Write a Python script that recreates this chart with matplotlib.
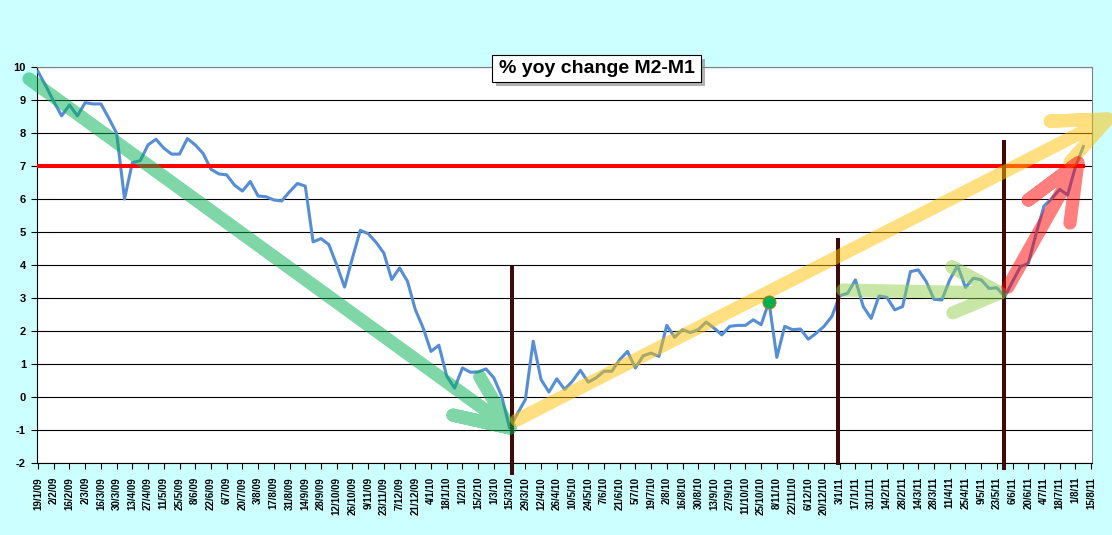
import pandas as pd
import matplotlib.pyplot as plt
from matplotlib.lines import Line2D

# =====================================
# DATA
# =====================================

# weekly % yoy change M2-M1, from 19/1/09
m2_m1 = [
    9.86, 9.42, 8.95, 8.52, 8.85, 8.52, 8.92, 8.88, 8.88, 8.45,
    7.99, 6.00, 7.10, 7.16, 7.64, 7.81, 7.54, 7.36, 7.36, 7.83,
    7.64, 7.38, 6.90, 6.76, 6.73, 6.42, 6.24, 6.53, 6.09, 6.07,
    5.97, 5.94, 6.22, 6.47, 6.39, 4.70, 4.80, 4.62, 4.00, 3.33,
    4.21, 5.05, 4.95, 4.69, 4.36, 3.56, 3.91, 3.51, 2.65, 2.09,
    1.38, 1.57, 0.63, 0.27, 0.88, 0.75, 0.76, 0.85, 0.58, 0.02,
    -0.94, -0.50, -0.08, 1.69, 0.53, 0.15, 0.55, 0.23, 0.48, 0.81,
    0.45, 0.58, 0.78, 0.78, 1.13, 1.38, 0.88, 1.25, 1.33, 1.23,
    2.17, 1.81, 2.04, 1.95, 2.04, 2.27, 2.09, 1.88, 2.14, 2.17,
    2.17, 2.34, 2.19, 2.89, 1.20, 2.14, 2.04, 2.06, 1.75, 1.93,
    2.14, 2.44, 3.07, 3.14, 3.55, 2.74, 2.38, 3.06, 3.02, 2.64,
    2.74, 3.80, 3.85, 3.50, 2.96, 2.94, 3.55, 3.98, 3.32, 3.60,
    3.55, 3.29, 3.31, 3.04, 3.50, 3.95, 4.05, 4.96, 5.79, 6.02,
    6.29, 6.12, 6.98, 7.59,
]
threshold = 7
highlight_week = 93

# category dates (one more than data, axis runs to 15/8/11)
dates = pd.date_range("2009-01-19", "2011-08-15", freq="7D")
tick_idx = list(range(0, len(dates), 2))
tick_labels = [f"{dates[i].day}/{dates[i].month}/{dates[i]:%y}" for i in tick_idx]

# hand drawn annotations (week index, value)
green_arrow = [(-1.15, 9.64), (60.05, -0.94), (52.8, -0.55), (60.05, -0.94), (56.2, 0.61)]
yellow_arrow = [(60.9, -0.70), (136.1, 8.42), (128.8, 8.36), (136.1, 8.42), (131.3, 7.12)]
lgreen_arrow = [(102.4, 3.24), (122.4, 3.15), (116.3, 3.94), (122.4, 3.15), (116.4, 2.55)]
red_arrow = [(123.4, 3.33), (132.3, 7.09), (126.0, 5.97), (132.3, 7.09), (131.3, 5.27)]
markers_x = [60.3, 101.8, 122.9]
markers_top = [3.97, 4.82, 7.79]
markers_bottom = [-2.36, -2.06, -2.21]

# =====================================
# PLOT
# =====================================

fig = plt.figure(figsize=(11.12, 5.35), dpi=100, facecolor="#CCFFFF")
ax = fig.add_axes([0.0333, 0.1346, 0.9487, 0.7402])
ax.set_facecolor("white")

x = list(range(len(m2_m1)))

ax.plot(x, m2_m1, color="#558ED5", lw=2.2, zorder=3)
ax.plot(x, [threshold] * len(x), color="#FF0000", lw=2.9, zorder=3)
ax.plot(highlight_week, m2_m1[highlight_week], "o", ms=9.5,
        color="#00B050", mec="#E46C0A", mew=0.6, zorder=6)

for xv, top, bot in zip(markers_x, markers_top, markers_bottom):
    ax.plot([xv, xv], [bot, top], color="#3F0A0A", lw=2.9,
            zorder=4, clip_on=False, solid_capstyle="butt")

for pts, col in [(green_arrow, "#00B050"), (yellow_arrow, "#FFC000"),
                 (lgreen_arrow, "#92D050"), (red_arrow, "#FF0000")]:
    xs = [p[0] for p in pts]
    ys = [p[1] for p in pts]
    ax.add_line(Line2D(xs, ys, color=col, alpha=0.5, lw=9.5,
                       solid_capstyle="round", solid_joinstyle="round",
                       zorder=5, clip_on=False))

ax.set_xlim(-0.13, 134.1)
ax.set_ylim(-2, 10)
ax.set_yticks(range(-2, 11))
ax.set_yticklabels([str(v) for v in range(-2, 11)], fontsize=8,
                   fontweight="bold", family="Liberation Sans")
ax.set_xticks(tick_idx)
ax.set_xticklabels(tick_labels, rotation=90, fontsize=7,
                   fontweight="bold", family="Liberation Sans")
ax.tick_params(axis="both", direction="out", length=4, width=0.8, color="black")
ax.tick_params(axis="x", pad=6)
ax.tick_params(axis="y", pad=4)

ax.grid(axis="y", color="black", lw=0.8)
ax.set_axisbelow(True)

ax.spines["left"].set_color("black")
ax.spines["bottom"].set_color("black")
ax.spines["top"].set_color("#808080")
ax.spines["right"].set_color("#808080")

# title box with a small drop shadow
box_x, box_y, box_w, box_h = 0.4424, 0.8467, 0.188, 0.0505
fig.patches.append(plt.Rectangle((box_x + 0.0036, box_y - 0.0075), box_w, box_h,
                                 transform=fig.transFigure,
                                 fc="#7F7F7F", ec="none", alpha=0.6, zorder=9))
fig.patches.append(plt.Rectangle((box_x, box_y), box_w, box_h,
                                 transform=fig.transFigure,
                                 fc="white", ec="black", lw=0.8, zorder=10))
fig.text(box_x + box_w / 2, box_y + box_h / 2, "% yoy change M2-M1",
         ha="center", va="center", fontsize=14, fontweight="bold",
         family="Liberation Sans", zorder=11)

plt.savefig("out.png", dpi=100, facecolor=fig.get_facecolor())
plt.close()
